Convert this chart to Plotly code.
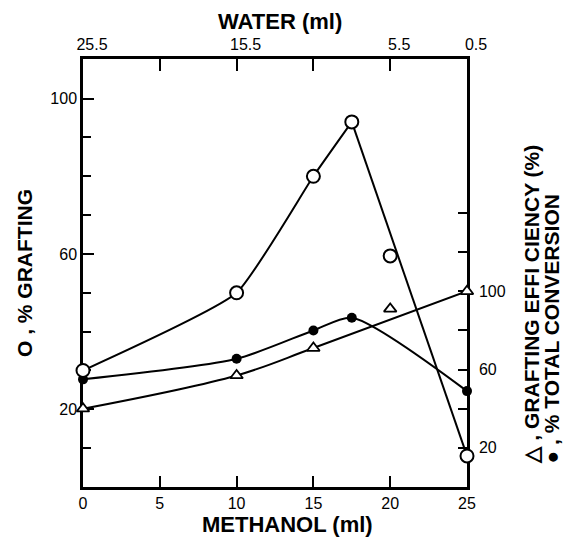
import plotly.graph_objects as go

# Methanol volume (ml) at each run and the measured responses
methanol_ml = [0, 10, 15, 17.5, 20, 25]
grafting_pct = [30, 50, 80, 94, 59.5, 8]

conversion_methanol = [0, 10, 15, 17.5, 25]
total_conversion_pct = [55, 65.5, 80, 86.5, 49]

efficiency_methanol = [0, 10, 15, 20, 25]
grafting_efficiency_pct = [40, 57, 71, 91, 100]

# Hand-drawn trend lines
grafting_rise_x = [0, 10, 15, 17.5]
grafting_rise_y = [30, 50, 80, 94]
grafting_fall_x = [17.5, 25]
grafting_fall_y = [94, 8]
efficiency_fit_x = [0, 10, 15, 25]
efficiency_fit_y = [40, 57, 71, 100]

# Axis ticks
methanol_ticks = [0, 5, 10, 15, 20, 25]
water_tick_text = ["25.5", "", "15.5", "", "5.5", "0.5"]
right_tick_vals = [20, 40, 60, 80, 100, 120, 140]
right_tick_text = ["20", "", "60", "", "100", "", ""]

FONT = "Liberation Sans, Arial, sans-serif"
W, H = 564, 538
L, R, T, B = 83, 97, 59, 51
PW, PH = W - L - R, H - T - B


def px(x):
    return (x - L) / PW


def py(y):
    return (H - B - y) / PH


line_style = dict(color="black", width=2)

fig = go.Figure()

# trend lines
fig.add_trace(go.Scatter(x=grafting_rise_x, y=grafting_rise_y, mode="lines",
                         line=dict(shape="spline", smoothing=0.45, **line_style),
                         xaxis="x", yaxis="y", cliponaxis=False))
fig.add_trace(go.Scatter(x=grafting_fall_x, y=grafting_fall_y, mode="lines",
                         line=line_style, xaxis="x", yaxis="y", cliponaxis=False))
fig.add_trace(go.Scatter(x=conversion_methanol, y=total_conversion_pct, mode="lines",
                         line=dict(shape="spline", smoothing=0.7, **line_style),
                         xaxis="x", yaxis="y2", cliponaxis=False))
fig.add_trace(go.Scatter(x=efficiency_fit_x, y=efficiency_fit_y, mode="lines",
                         line=dict(shape="spline", smoothing=1, **line_style),
                         xaxis="x", yaxis="y2", cliponaxis=False))

# markers
fig.add_trace(go.Scatter(x=conversion_methanol, y=total_conversion_pct, mode="markers",
                         marker=dict(symbol="circle", size=10, color="black"),
                         xaxis="x", yaxis="y2", cliponaxis=False))
fig.add_trace(go.Scatter(x=efficiency_methanol, y=grafting_efficiency_pct, mode="markers",
                         marker=dict(symbol="triangle-up", size=11, color="white",
                                     line=dict(color="black", width=1.8)),
                         xaxis="x", yaxis="y2", cliponaxis=False))
fig.add_trace(go.Scatter(x=methanol_ml, y=grafting_pct, mode="markers",
                         marker=dict(symbol="circle", size=13, color="white",
                                     line=dict(color="black", width=2)),
                         xaxis="x2", yaxis="y", cliponaxis=False))

tick_font = dict(family=FONT, size=16, color="black")
title_font = dict(family=FONT, size=22, color="black", weight="bold")
side_font = dict(family=FONT, size=21, color="black", weight="bold")

fig.update_layout(
    width=W, height=H,
    margin=dict(l=L, r=R, t=T, b=B, pad=0),
    paper_bgcolor="white", plot_bgcolor="white",
    showlegend=False,
    xaxis=dict(range=[0, 25], tickvals=methanol_ticks, ticks="inside", ticklen=11,
               tickwidth=2, tickcolor="black", showline=True, linecolor="black",
               linewidth=2.5, showgrid=False, zeroline=False, tickfont=tick_font,
               layer="below traces", anchor="y"),
    xaxis2=dict(range=[0, 25], tickvals=methanol_ticks, ticktext=water_tick_text,
                overlaying="x", side="top", anchor="y", ticks="inside", ticklen=12,
                tickwidth=2, tickcolor="black", showline=True, linecolor="black",
                linewidth=2.5, showgrid=False, zeroline=False, tickfont=tick_font,
                ticklabelshift=9, layer="below traces"),
    yaxis=dict(range=[0, 110.2], tickmode="linear", tick0=20, dtick=40,
               ticks="inside", ticklen=11, tickwidth=2, tickcolor="black",
               minor=dict(dtick=10, tick0=0, ticks="inside", ticklen=8,
                          tickwidth=2, tickcolor="black"),
               showline=True, linecolor="black", linewidth=2.5, showgrid=False,
               zeroline=False, tickfont=tick_font, layer="below traces", anchor="x"),
    yaxis2=dict(range=[0, 218.7], tickvals=right_tick_vals, ticktext=right_tick_text,
                overlaying="y", side="right", anchor="x", ticks="inside", ticklen=9,
                tickwidth=2, tickcolor="black", showline=True, linecolor="black",
                linewidth=2.5, showgrid=False, zeroline=False, tickfont=tick_font,
                ticklabelstandoff=6, layer="below traces"),
)

annotations = [
    dict(text="WATER (ml)", x=px(280), y=py(21), font=title_font),
    dict(text="METHANOL (ml)", x=px(287), y=py(524), font=title_font),
    dict(text="O , % GRAFTING", x=px(24), y=py(273), textangle=-90, font=side_font),
    dict(text="△ , GRAFTING EFFI CIENCY (%)", x=px(531), y=py(466), textangle=-90,
         yanchor="bottom", font=side_font),
    dict(text="● , % TOTAL CONVERSION", x=px(551), y=py(466), textangle=-90,
         yanchor="bottom", font=side_font),
]
for a in annotations:
    a.setdefault("xanchor", "center")
    a.setdefault("yanchor", "middle")
    fig.add_annotation(xref="paper", yref="paper", showarrow=False, **a)

fig.write_html("out.html")
